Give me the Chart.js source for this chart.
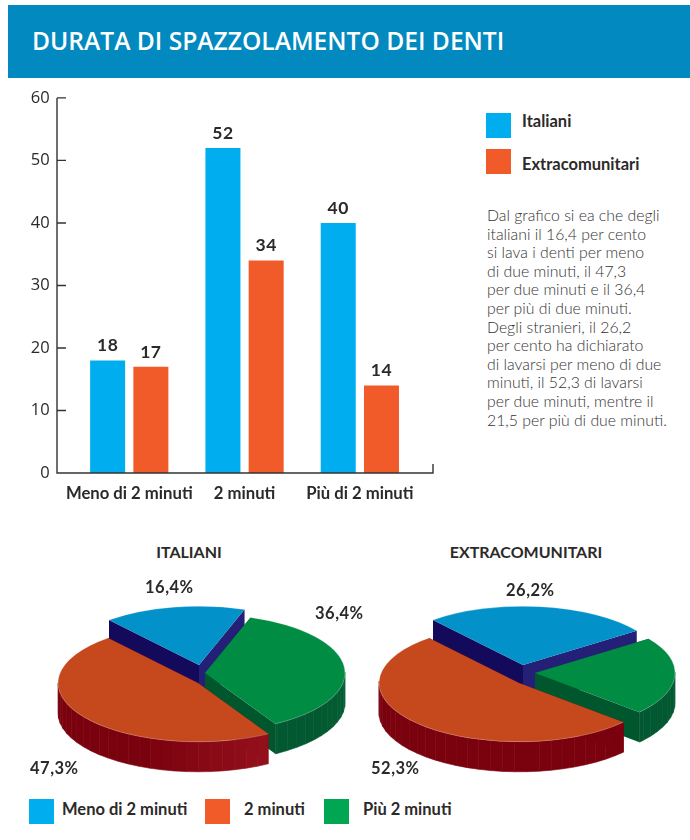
<!DOCTYPE html>
<html lang="it">
<head>
<meta charset="utf-8">
<title>Durata di spazzolamento dei denti</title>
<script src="https://cdn.jsdelivr.net/npm/chart.js@4/dist/chart.umd.min.js"></script>
<style>
  html, body { margin: 0; padding: 0; background: #fff; }
  body { position: relative; width: 690px; height: 840px; overflow: hidden; font-family: Lato, sans-serif; color: #2b2a29; }
  canvas, .txt, .box { position: absolute; }
  .txt { white-space: nowrap; line-height: 20px; }
  #header { position: absolute; left: 8px; top: 5px; width: 682px; height: 73px; background: #028ac0; }
  #title { left: 32px; top: 26px; font: 600 24.6px/30px "Open Sans", sans-serif; color: #fff; }
  .legend { font-weight: 700; font-size: 16.5px; }
  .pieTitle { font-weight: 700; font-size: 16px; transform: translateX(-50%); }
  .pct { font-weight: 700; font-size: 16.5px; letter-spacing: 0.5px; }
  #note { left: 487px; top: 206px; font-weight: 300; font-size: 15.8px; line-height: 18.6px; color: #333; }
</style>
</head>
<body>
<div id="header"></div>
<div class="txt" id="title">DURATA DI SPAZZOLAMENTO DEI DENTI</div>

<canvas id="barChart" width="470" height="436" style="left:0;top:74px"></canvas>
<canvas id="pieIta" width="320" height="190" style="left:40px;top:590px"></canvas>
<canvas id="pieExt" width="320" height="190" style="left:362px;top:590px"></canvas>

<div class="txt" id="note"></div>

<script>
// bar chart values
const categories = ['Meno di 2 minuti', '2 minuti', 'Più di 2 minuti'];
const italiani = [18, 52, 40];
const extracomunitari = [17, 34, 14];
const yTicks = [0, 10, 20, 30, 40, 50, 60];

// pie values, in clockwise order from the blue slice
const pieCategories = ['Meno di 2 minuti', 'Più 2 minuti', '2 minuti'];
const italianiPct = [16.4, 36.4, 47.3];
const extracomunitariPct = [26.2, 21.5, 52.3];

const noteLines = [
  'Dal grafico si ea che degli',
  'italiani il 16,4 per cento',
  'si lava i denti per meno',
  'di due minuti, il 47,3',
  'per due minuti e il 36,4',
  'per più di due minuti.',
  'Degli stranieri, il 26,2',
  'per cento ha dichiarato',
  'di lavarsi per meno di due',
  'minuti, il 52,3 di lavarsi',
  'per due minuti, mentre il',
  '21,5 per più di due minuti.'
];

const BLUE = '#00aeef';
const ORANGE = '#f15a29';
const GREEN = '#00a651';
const INK = '#2b2a29';

function addBox(x, y, w, h, color) {
  const d = document.createElement('div');
  d.className = 'box';
  d.style.cssText = 'left:' + x + 'px;top:' + y + 'px;width:' + w + 'px;height:' + h + 'px;background:' + color;
  document.body.appendChild(d);
}

function addText(cls, x, y, text) {
  const d = document.createElement('div');
  d.className = 'txt ' + cls;
  d.style.left = x + 'px';
  d.style.top = y + 'px';
  d.textContent = text;
  document.body.appendChild(d);
}

function pct(v) {
  return v.toFixed(1).replace('.', ',') + '%';
}

// axis lines sit outside the plot area, so they are stroked here from the y scale
const barAxes = {
  id: 'barAxes',
  afterDraw(chart) {
    const ctx = chart.ctx;
    const y = chart.scales.y;
    const left = 57;
    const right = 433;
    const base = y.getPixelForValue(0);
    ctx.save();
    ctx.strokeStyle = '#333';
    ctx.lineWidth = 1.4;
    ctx.beginPath();
    ctx.moveTo(left, y.getPixelForValue(60));
    ctx.lineTo(left, base);
    ctx.lineTo(right, base);
    ctx.lineTo(right, base - 9);
    yTicks.forEach(function(t) {
      ctx.moveTo(left, y.getPixelForValue(t));
      ctx.lineTo(left + 9, y.getPixelForValue(t));
    });
    ctx.stroke();
    ctx.restore();
  }
};

// value above each bar
const barValues = {
  id: 'barValues',
  afterDatasetsDraw(chart) {
    const ctx = chart.ctx;
    ctx.save();
    ctx.font = '700 17.5px Lato';
    ctx.letterSpacing = '0.5px';
    ctx.fillStyle = INK;
    ctx.textAlign = 'center';
    ctx.textBaseline = 'bottom';
    chart.data.datasets.forEach(function(ds, i) {
      chart.getDatasetMeta(i).data.forEach(function(bar, j) {
        ctx.fillText(ds.data[j], bar.x, bar.y - 6);
      });
    });
    ctx.restore();
  }
};

new Chart(document.getElementById('barChart'), {
  type: 'bar',
  data: {
    labels: categories,
    datasets: [
      { label: 'Italiani', data: italiani, backgroundColor: BLUE },
      { label: 'Extracomunitari', data: extracomunitari, backgroundColor: ORANGE }
    ]
  },
  plugins: [barAxes, barValues],
  options: {
    responsive: false,
    animation: false,
    categoryPercentage: 0.75,
    barPercentage: 0.81,
    layout: { padding: { top: 5, right: 52.5, left: 0, bottom: 0 } },
    plugins: { legend: { display: false }, tooltip: { enabled: false } },
    scales: {
      x: {
        grid: { display: false },
        border: { display: false },
        afterFit(scale) { scale.height = 37; },
        ticks: { color: INK, padding: 3, maxRotation: 0, autoSkip: false, font: { family: 'Lato', weight: '700', size: 16.7 } }
      },
      y: {
        min: 0,
        max: 60,
        grid: { display: false },
        border: { display: false },
        afterFit(scale) { scale.width = 71.6; },
        afterBuildTicks(scale) { scale.ticks = yTicks.map(function(v) { return { value: v }; }); },
        ticks: { color: INK, padding: 14, font: { family: 'Open Sans', size: 16.5 } }
      }
    }
  }
});

function mix(a, b, t) {
  t = Math.max(0, Math.min(1, t));
  const c = a.map(function(v, i) { return Math.round(v + (b[i] - v) * t); });
  return 'rgb(' + c.join(',') + ')';
}

// tilted pie: each arc element is drawn through a vertical squash, over its own side walls
const pie3d = {
  id: 'pie3d',
  beforeDatasetsDraw(chart, args, opts) {
    const ctx = chart.ctx;
    const k = opts.squash;
    const depth = opts.depth;
    const arcs = chart.getDatasetMeta(0).data;
    arcs.forEach(function(arc, i) {
      const r = arc.outerRadius;
      const cx = arc.x + opts.shifts[i][0];
      const cy = arc.y + opts.shifts[i][1];
      const walls = opts.walls[i];
      const px = function(a) { return cx + r * Math.cos(a); };
      const py = function(a) { return cy + k * r * Math.sin(a); };

      // radial faces
      [[arc.startAngle, walls.startFace], [arc.endAngle, walls.endFace]].forEach(function(f) {
        ctx.fillStyle = f[1];
        ctx.beginPath();
        ctx.moveTo(cx, cy);
        ctx.lineTo(px(f[0]), py(f[0]));
        ctx.lineTo(px(f[0]), py(f[0]) + depth);
        ctx.lineTo(cx, cy + depth);
        ctx.closePath();
        ctx.fill();
      });

      // rim, in short ribbed segments on the near half of the ellipse
      const step = Math.PI / 36;
      for (let a = arc.startAngle; a < arc.endAngle - 1e-6; a += step) {
        const b = Math.min(a + step, arc.endAngle);
        if (Math.sin((a + b) / 2) <= 0) continue;
        const x0 = px(a), x1 = px(b);
        ctx.fillStyle = mix(walls.rimLeft, walls.rimRight, (Math.min(x0, x1) - walls.x0) / (walls.x1 - walls.x0));
        ctx.strokeStyle = ctx.fillStyle;
        ctx.lineWidth = 0.6;
        ctx.beginPath();
        ctx.moveTo(x0, py(a));
        ctx.lineTo(x1, py(b));
        ctx.lineTo(x1, py(b) + depth);
        ctx.lineTo(x0, py(a) + depth);
        ctx.closePath();
        ctx.fill();
        ctx.stroke();
      }

      // top face, through the library's own arc element
      ctx.save();
      ctx.translate(cx, cy);
      ctx.scale(1, k);
      ctx.translate(-arc.x, -arc.y);
      arc.draw(ctx);
      ctx.restore();

      // pale line where the top meets the rim
      ctx.strokeStyle = 'rgba(255,255,255,0.3)';
      ctx.lineWidth = 0.8;
      ctx.beginPath();
      ctx.ellipse(cx, cy, r, k * r, 0, arc.startAngle, arc.endAngle);
      ctx.stroke();
    });
    return false;
  }
};

function drawPie(id, values, shifts, xRange) {
  const orangeRim = { rimLeft: [122, 2, 14], rimRight: [160, 21, 34], x0: xRange[0], x1: xRange[1], startFace: '#7b0210', endFace: '#7b0210' };
  const greenRim = { rimLeft: [2, 88, 48], rimRight: [8, 100, 58], x0: xRange[1], x1: xRange[1] + 80, startFace: '#00562d', endFace: '#00562d' };
  const blueRim = { rimLeft: [20, 10, 92], rimRight: [37, 32, 119], x0: xRange[0], x1: xRange[1], startFace: '#140a5c', endFace: '#252077' };
  new Chart(document.getElementById(id), {
    type: 'pie',
    data: {
      labels: pieCategories,
      datasets: [{ data: values, backgroundColor: ['#0291c9', '#018c43', '#c6491e'], borderWidth: 0 }]
    },
    plugins: [pie3d],
    options: {
      responsive: false,
      animation: false,
      rotation: 320,
      radius: 140,
      plugins: {
        legend: { display: false },
        tooltip: { enabled: false },
        pie3d: { squash: 0.42, depth: 30, shifts: shifts, walls: [blueRim, greenRim, orangeRim] }
      }
    }
  });
}

drawPie('pieIta', italianiPct, [[-1, -20], [5, -12], [-2, -2]], [100, 270]);
drawPie('pieExt', extracomunitariPct, [[1, -20], [13, -12], [-3, -2]], [420, 625]);

// legend and captions
addBox(486, 113, 25, 25, BLUE);
addBox(486, 149, 25, 25, ORANGE);
addText('legend', 522, 111, 'Italiani');
addText('legend', 522, 154, 'Extracomunitari');

addBox(29, 799, 25, 25, BLUE);
addBox(205, 799, 25, 25, ORANGE);
addBox(324, 799, 25, 25, GREEN);
addText('legend', 62, 799, pieCategories[0]);
addText('legend', 244, 799, pieCategories[2]);
addText('legend', 363, 799, pieCategories[1]);

addText('pieTitle', 189, 542, 'ITALIANI');
addText('pieTitle', 526, 542, 'EXTRACOMUNITARI');

addText('pct', 145, 577, pct(italianiPct[0]));
addText('pct', 315, 603, pct(italianiPct[1]));
addText('pct', 30, 758, pct(italianiPct[2]));
addText('pct', 506, 580, pct(extracomunitariPct[0]));
addText('pct', 371, 758, pct(extracomunitariPct[2]));

document.getElementById('note').innerHTML = noteLines.join('<br>');
</script>
</body>
</html>
